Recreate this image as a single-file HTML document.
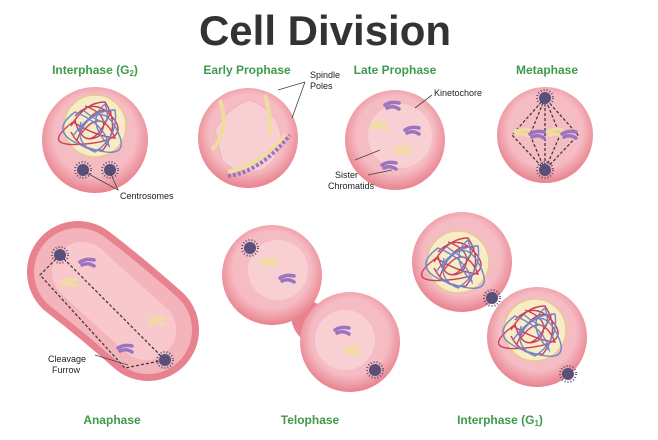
<!DOCTYPE html>
<html><head><style>
body{margin:0;background:#fff;}
svg{display:block;font-family:"Liberation Sans",sans-serif;}
.l{fill:#3f9a4c;font-weight:bold;font-size:12px;text-anchor:middle;}
.s{fill:#222;font-size:9px;}
</style></head><body>
<svg width="658" height="440" viewBox="0 0 658 440">
<defs>
<radialGradient id="c" cx="50%" cy="45%" r="55%">
<stop offset="0.7" stop-color="#f6bcc3"/><stop offset="1" stop-color="#e8828e"/></radialGradient>
<g id="ch"><path d="M0 0 Q6 -4 14 -2 M2 3 Q8 0 14 4" stroke="#9a74c0" stroke-width="3.5" fill="none" stroke-linecap="round"/></g>
<g id="cy"><path d="M0 0 Q6 -4 14 -2 M2 3 Q8 0 14 4" stroke="#efdca0" stroke-width="3.5" fill="none" stroke-linecap="round"/></g>
<g id="nu"><circle r="31" fill="#f8ecc6" stroke="#e6c990" stroke-width="1.5"/>
<path d="M-20 -10 Q0 -30 18 -8 T-10 18 T-22 -4 Q0 10 20 12 Q6 -20 -14 8 Q-2 24 16 -14 Q-4 -22 -18 14 M-24 0 Q-10 -24 10 -24 Q26 0 8 24 Q-14 26 -24 6 M-10 -20 Q18 -10 4 10 Q-14 20 -20 -6" stroke="#c84060" stroke-width="1.4" fill="none"/>
<path d="M-16 6 Q6 -28 22 4 T-6 22 T-20 -14 Q10 -2 14 20 Q-10 -6 10 -22 Q20 10 -12 -16 M-22 10 Q-4 -16 20 -16 Q24 10 0 26 Q-20 18 -14 -4" stroke="#6f86cc" stroke-width="1.4" fill="none"/></g>
<g id="cs"><circle r="6" fill="#5a4f78"/><circle r="8" fill="none" stroke="#5a4f78" stroke-width="2" stroke-dasharray="1 2"/></g>
</defs>
<text x="325" y="45" text-anchor="middle" font-size="42" font-weight="bold" fill="#333">Cell Division</text>
<text class="l" x="95" y="74">Interphase (G<tspan font-size="8" dy="2">2</tspan><tspan dy="-2">)</tspan></text>
<text class="l" x="247" y="74">Early Prophase</text>
<text class="l" x="395" y="74">Late Prophase</text>
<text class="l" x="547" y="74">Metaphase</text>
<text class="l" x="112" y="424">Anaphase</text>
<text class="l" x="310" y="424">Telophase</text>
<text class="l" x="500" y="424">Interphase (G<tspan font-size="8" dy="2">1</tspan><tspan dy="-2">)</tspan></text>

<!-- Interphase G2 -->
<circle cx="95" cy="140" r="53" fill="url(#c)"/>
<use href="#nu" x="95" y="126"/>
<use href="#cs" x="83" y="170"/><use href="#cs" x="110" y="170"/>
<path d="M85 172 L118 190 L110 172" stroke="#444" fill="none" stroke-width="0.8"/>
<text class="s" x="120" y="199">Centrosomes</text>

<!-- Early prophase -->
<circle cx="248" cy="138" r="50" fill="url(#c)"/>
<path d="M215 130 Q230 105 250 100 Q275 110 280 130 Q285 155 262 170 Q235 175 222 160 Z" fill="#f8d0d3" stroke="#f1b1b9"/>
<path d="M220 100 Q230 130 212 150 M265 95 Q272 118 270 135 M228 172 Q260 165 285 135" stroke="#efdca0" stroke-width="4" fill="none"/>
<path d="M228 176 Q260 172 290 135" stroke="#9a74c0" stroke-width="4" fill="none" stroke-dasharray="3 2"/>
<path d="M278 90 L305 82 M292 118 L305 82" stroke="#444" stroke-width="0.8"/>
<text class="s" x="310" y="78">Spindle</text><text class="s" x="310" y="89">Poles</text>

<!-- Late prophase -->
<circle cx="395" cy="140" r="50" fill="url(#c)"/>
<circle cx="400" cy="136" r="32" fill="#f8d0d3"/>
<use href="#ch" x="385" y="105"/><use href="#ch" x="405" y="130"/><use href="#cy" x="372" y="125"/><use href="#cy" x="395" y="150"/><use href="#ch" x="382" y="165"/>
<path d="M415 108 L432 95 M355 160 L380 150 M368 175 L392 170" stroke="#444" stroke-width="0.8"/>
<text class="s" x="434" y="96">Kinetochore</text>
<text class="s" x="335" y="178">Sister</text><text class="s" x="328" y="189">Chromatids</text>

<!-- Metaphase -->
<circle cx="545" cy="135" r="48" fill="url(#c)"/>
<path d="M545 98 L512 135 L545 170 L578 135 Z M545 98 L530 135 L545 170 L560 135 Z M545 98 V170" stroke="#333" stroke-dasharray="3 2" fill="none" stroke-width="1.2"/>
<use href="#cs" x="545" y="98"/><use href="#cs" x="545" y="170"/>
<use href="#cy" x="515" y="132"/><use href="#ch" x="530" y="134"/><use href="#cy" x="548" y="132"/><use href="#ch" x="562" y="134"/>

<!-- Anaphase -->
<path d="M78 272 Q112 298 148 330" stroke="#e8828e" stroke-width="102" stroke-linecap="round" fill="none"/>
<path d="M78 272 Q112 298 148 330" stroke="#f4b4bc" stroke-width="88" stroke-linecap="round" fill="none"/>
<path d="M82 272 Q112 300 146 330" stroke="#f8c8cd" stroke-width="60" stroke-linecap="round" fill="none"/>
<path d="M60 255 L165 360 L125 368 L40 275 Z" stroke="#333" stroke-dasharray="3 2" fill="none" stroke-width="1.2"/>
<use href="#cs" x="60" y="255"/><use href="#cs" x="165" y="360"/>
<use href="#ch" x="80" y="262"/><use href="#cy" x="62" y="282"/><use href="#ch" x="118" y="348"/><use href="#cy" x="150" y="320"/>
<path d="M95 355 L128 365" stroke="#444" stroke-width="0.8"/>
<text class="s" x="48" y="362">Cleavage</text><text class="s" x="52" y="373">Furrow</text>

<!-- Telophase -->
<path d="M310 300 Q300 320 315 330" stroke="#e8828e" stroke-width="30" fill="none"/>
<circle cx="272" cy="275" r="50" fill="url(#c)"/>
<circle cx="350" cy="342" r="50" fill="url(#c)"/>
<circle cx="278" cy="270" r="30" fill="#f8d0d3"/><circle cx="345" cy="340" r="30" fill="#f8d0d3"/>
<use href="#cs" x="250" y="248"/><use href="#cs" x="375" y="370"/>
<use href="#cy" x="262" y="262"/><use href="#ch" x="280" y="278"/><use href="#ch" x="335" y="330"/><use href="#cy" x="345" y="350"/>

<!-- Interphase G1 -->
<circle cx="462" cy="262" r="50" fill="url(#c)"/>
<circle cx="537" cy="337" r="50" fill="url(#c)"/>
<use href="#nu" x="458" y="262"/><use href="#nu" x="535" y="330"/>
<use href="#cs" x="492" y="298"/><use href="#cs" x="568" y="374"/>
</svg>
</body></html>
